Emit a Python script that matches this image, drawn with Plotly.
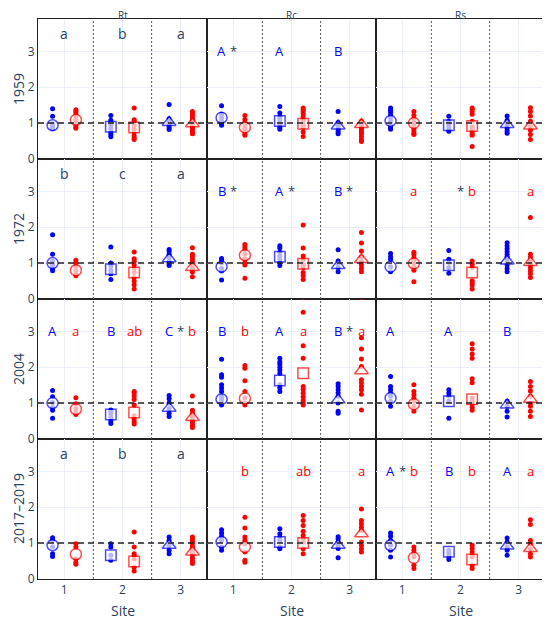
import plotly.graph_objects as go
from plotly.subplots import make_subplots

years = ["1959", "1972", "2004", "2017–2019"]
groups = ["Rt", "Rc", "Rs"]
sites = [1, 2, 3]

# ---- 1959 ----
b59_rt = [[1.40, 1.19, 0.98, 0.93, 0.88, 0.85], [1.21, 1.08, 1.02, 0.95, 0.85, 0.75, 0.68, 0.62], [1.52, 1.12, 1.05, 1.00, 0.93, 0.87, 0.82]]
r59_rt = [[1.37, 1.33, 1.28, 1.22, 1.15, 1.08, 1.02, 0.95, 0.90, 0.86], [1.42, 1.09, 1.05, 0.95, 0.85, 0.75, 0.65, 0.58, 0.54], [1.32, 1.28, 1.22, 1.15, 1.08, 1.02, 0.96, 0.90, 0.84, 0.78, 0.72, 0.70]]
mb59_rt = [0.94, 0.90, 1.02]
mr59_rt = [1.09, 0.88, 0.98]
b59_rc = [[1.48, 1.25, 1.15, 1.05, 0.98, 0.94], [1.46, 1.28, 1.18, 1.10, 1.02, 0.95, 0.88, 0.83], [1.32, 1.02, 0.95, 0.88, 0.82, 0.76, 0.70]]
r59_rc = [[1.21, 1.10, 1.02, 0.92, 0.85, 0.78, 0.70, 0.66], [1.42, 1.38, 1.32, 1.26, 1.18, 1.10, 1.02, 0.95, 0.88, 0.75, 0.63], [1.05, 1.00, 0.94, 0.88, 0.82, 0.76, 0.70, 0.63, 0.54, 0.49]]
mb59_rc = [1.15, 1.06, 0.92]
mr59_rc = [0.88, 0.98, 0.96]
b59_rs = [[1.42, 1.36, 1.30, 1.22, 1.15, 1.05, 0.95, 0.88, 0.83], [1.19, 1.05, 0.98, 0.90, 0.82, 0.77], [1.20, 1.08, 1.00, 0.93, 0.85, 0.78, 0.72]]
r59_rs = [[1.32, 1.22, 1.12, 1.02, 0.92, 0.85, 0.78, 0.70, 0.68], [1.42, 1.38, 1.32, 1.25, 1.05, 0.90, 0.85, 0.80, 0.72, 0.66, 0.35], [1.43, 1.32, 1.20, 1.05, 0.91, 0.80, 0.68, 0.54]]
mb59_rs = [1.06, 0.94, 0.96]
mr59_rs = [1.00, 0.92, 0.92]

# ---- 1972 ----
b72_rt = [[1.79, 1.25, 1.05, 0.95, 0.85, 0.79], [1.45, 1.00, 0.92, 0.80, 0.70, 0.54], [1.38, 1.33, 1.25, 1.15, 1.05, 0.98, 0.93]]
r72_rt = [[1.08, 1.00, 0.90, 0.78, 0.70, 0.65], [1.31, 1.12, 1.05, 0.95, 0.85, 0.74, 0.60, 0.50, 0.40, 0.28], [1.43, 1.25, 1.18, 1.10, 1.02, 0.95, 0.85, 0.75, 0.62]]
mb72_rt = [1.00, 0.83, 1.12]
mr72_rt = [0.80, 0.74, 0.88]
b72_rc = [[1.13, 1.08, 1.00, 0.85, 0.78, 0.53], [1.48, 1.42, 1.30, 1.20, 1.10, 1.02, 0.93], [1.37, 1.06, 0.98, 0.88, 0.76]]
r72_rc = [[1.52, 1.45, 1.38, 1.25, 1.12, 1.00, 0.95, 0.58], [2.06, 1.42, 1.20, 1.10, 0.97, 0.88, 0.74, 0.65, 0.54], [1.85, 1.56, 1.34, 1.16, 1.04, 0.95, 0.85, 0.76]]
mb72_rc = [0.90, 1.18, 0.93]
mr72_rc = [1.22, 0.98, 1.10]
b72_rs = [[1.27, 1.18, 1.10, 0.90, 0.76], [1.35, 1.11, 1.02, 0.88, 0.72], [1.57, 1.48, 1.40, 1.32, 1.25, 1.18, 1.10, 1.02, 0.95, 0.85, 0.76]]
r72_rs = [[1.30, 1.25, 1.15, 1.08, 1.00, 0.90, 0.80, 0.48], [1.06, 0.97, 0.88, 0.51, 0.45, 0.39, 0.28], [2.27, 1.25, 1.16, 1.06, 0.97, 0.88, 0.79, 0.70, 0.60]]
mb72_rs = [0.90, 0.94, 1.06]
mr72_rs = [0.99, 0.74, 1.02]

# ---- 2004 ----
b04_rt = [[1.35, 1.18, 1.02, 0.88, 0.80, 0.58], [0.81, 0.78, 0.70, 0.60, 0.50, 0.43], [1.21, 1.12, 1.00, 0.85, 0.72, 0.63]]
r04_rt = [[1.15, 0.98, 0.85, 0.75, 0.68], [1.32, 1.28, 1.20, 1.10, 0.95, 0.65, 0.55, 0.48, 0.42], [1.20, 0.80, 0.72, 0.62, 0.52, 0.45, 0.38, 0.32]]
mb04_rt = [1.00, 0.68, 0.86]
mr04_rt = [0.83, 0.74, 0.60]
b04_rc = [[2.22, 1.79, 1.72, 1.51, 1.42, 1.32, 1.19, 1.10, 1.00, 0.95], [2.25, 2.15, 2.08, 2.00, 1.92, 1.83, 1.51, 1.42, 1.32], [1.54, 1.46, 1.37, 1.28, 1.19, 1.00, 0.77, 0.72]]
r04_rc = [[2.05, 1.97, 1.62, 1.32, 1.14, 1.00, 0.95], [3.95, 3.53, 2.60, 2.25, 1.46, 1.38, 1.28, 1.18, 1.08, 1.00, 0.95], [3.95, 2.82, 2.51, 2.23, 2.02, 1.65, 1.56, 1.46, 1.37, 1.25, 0.81]]
mb04_rc = [1.11, 1.63, 1.09]
mr04_rc = [1.13, 1.83, 1.90]
b04_rs = [[1.74, 1.46, 1.37, 1.28, 1.19, 1.05, 0.91], [1.37, 1.28, 1.19, 1.05, 0.58], [1.05, 0.91, 0.77, 0.61]]
r04_rs = [[1.51, 1.32, 1.23, 1.14, 1.05, 0.91, 0.77], [2.65, 2.51, 2.37, 2.25, 1.68, 1.57, 1.14, 1.05, 0.97, 0.88, 0.80], [1.60, 1.46, 1.34, 1.19, 1.00, 0.91, 0.77, 0.63]]
mb04_rs = [1.14, 1.05, 0.95]
mr04_rs = [0.97, 1.11, 1.11]

# ---- 2017-2019 ----
b17_rt = [[1.15, 1.08, 0.90, 0.70, 0.63], [0.98, 0.89, 0.66, 0.52], [1.17, 1.08, 0.94, 0.80, 0.70]]
r17_rt = [[0.98, 0.89, 0.56, 0.47, 0.41], [1.31, 0.89, 0.70, 0.65, 0.56, 0.33, 0.22], [1.17, 1.12, 1.05, 0.98, 0.90, 0.82, 0.74, 0.66, 0.58, 0.50, 0.43]]
mb17_rt = [0.94, 0.66, 0.94]
mr17_rt = [0.69, 0.49, 0.75]
b17_rc = [[1.37, 1.28, 1.19, 1.08, 0.89, 0.80], [1.40, 1.26, 1.17, 1.08, 0.89, 0.84], [1.18, 1.12, 1.03, 0.94, 0.85, 0.59]]
r17_rc = [[1.72, 1.42, 1.17, 1.08, 0.98, 0.75, 0.52, 0.47], [1.77, 1.63, 1.49, 1.33, 1.21, 1.12, 1.03, 0.84, 0.70], [1.95, 1.63, 1.54, 1.44, 1.35, 1.03, 0.94, 0.84, 0.75]]
mb17_rc = [1.03, 1.03, 0.94]
mr17_rc = [0.89, 1.00, 1.26]
b17_rs = [[1.28, 1.19, 1.08, 0.94, 0.80, 0.61], [0.80, 0.72, 0.63, 0.54], [1.14, 1.03, 0.89, 0.80, 0.66]]
r17_rs = [[0.89, 0.80, 0.70, 0.61, 0.38, 0.29], [0.94, 0.85, 0.75, 0.66, 0.61, 0.38, 0.29], [1.65, 1.52, 1.07, 0.98, 0.84, 0.70, 0.61]]
mb17_rs = [0.94, 0.76, 0.92]
mr17_rs = [0.59, 0.54, 0.85]

# letters: centred (grey) ones, and (blue, star, red) ones
ctr59_rt = ["a", "b", "a"]
ctr72_rt = ["b", "c", "a"]
ctr17_rt = ["a", "b", "a"]
let59_rc = [("A", "*", ""), ("A", "", ""), ("B", "", "")]
let72_rc = [("B", "*", ""), ("A", "*", ""), ("B", "*", "")]
let72_rs = [("", "", "a"), ("", "*", "b"), ("", "", "a")]
let04_rt = [("A", "", "a"), ("B", "", "ab"), ("C", "*", "b")]
let04_rc = [("B", "", "b"), ("A", "", "a"), ("B", "*", "a")]
let04_rs = [("A", "", ""), ("A", "", ""), ("B", "", "")]
let17_rc = [("", "", "b"), ("", "", "ab"), ("", "", "a")]
let17_rs = [("A", "*", "b"), ("B", "", "b"), ("A", "", "a")]

panels = {
    (0, 0): (b59_rt, r59_rt, mb59_rt, mr59_rt), (0, 1): (b59_rc, r59_rc, mb59_rc, mr59_rc), (0, 2): (b59_rs, r59_rs, mb59_rs, mr59_rs),
    (1, 0): (b72_rt, r72_rt, mb72_rt, mr72_rt), (1, 1): (b72_rc, r72_rc, mb72_rc, mr72_rc), (1, 2): (b72_rs, r72_rs, mb72_rs, mr72_rs),
    (2, 0): (b04_rt, r04_rt, mb04_rt, mr04_rt), (2, 1): (b04_rc, r04_rc, mb04_rc, mr04_rc), (2, 2): (b04_rs, r04_rs, mb04_rs, mr04_rs),
    (3, 0): (b17_rt, r17_rt, mb17_rt, mr17_rt), (3, 1): (b17_rc, r17_rc, mb17_rc, mr17_rc), (3, 2): (b17_rs, r17_rs, mb17_rs, mr17_rs),
}
centre_letters = {(0, 0): ctr59_rt, (1, 0): ctr72_rt, (3, 0): ctr17_rt}
pair_letters = {(0, 1): let59_rc, (1, 1): let72_rc, (1, 2): let72_rs, (2, 0): let04_rt,
                (2, 1): let04_rc, (2, 2): let04_rs, (3, 1): let17_rc, (3, 2): let17_rs}

BLUE, RED, INK = "#0000ff", "#ff0000", "#2a3f5f"
FONT = "Open Sans"
dx = 0.2
symbols = ["circle", "square", "triangle-up"]
msizes = [11, 10.5, 12]

fig = make_subplots(rows=4, cols=3, horizontal_spacing=0, vertical_spacing=0)

for (i, j), (bp, rp, bm, rm) in panels.items():
    row, col = i + 1, j + 1
    idx = i * 3 + j + 1
    xr = "x" if idx == 1 else f"x{idx}"
    yr = "y" if idx == 1 else f"y{idx}"
    for pts, means, color, off in ((bp, bm, BLUE, -dx), (rp, rm, RED, dx)):
        xs, ys = [], []
        for s, vals in zip(sites, pts):
            xs += [s + off] * len(vals)
            ys += vals
        fig.add_trace(go.Scatter(x=xs, y=ys, mode="markers", showlegend=False, hoverinfo="skip",
                                 marker=dict(color=color, size=5)), row=row, col=col)
        fig.add_trace(go.Scatter(x=[s + off for s in sites], y=means, mode="markers", showlegend=False,
                                 hoverinfo="skip",
                                 marker=dict(symbol=symbols, size=msizes, color="white",
                                             line=dict(color=color, width=1.5))), row=row, col=col)
    # site separators and reference line
    for xv in (1.5, 2.5):
        fig.add_shape(type="line", xref=xr, yref=yr, x0=xv, x1=xv, y0=0, y1=3.9,
                      line=dict(color="#555555", width=1, dash="2px,2px"))
    fig.add_shape(type="line", xref=xr, yref=yr, x0=0.55, x1=3.45, y0=1, y1=1, layer="above",
                  line=dict(color="#222222", width=1.5, dash="6px,4px"))
    if (i, j) in centre_letters:
        for s, t in zip(sites, centre_letters[(i, j)]):
            fig.add_annotation(x=s, y=3.5, xref=xr, yref=yr, text=t, showarrow=False,
                               font=dict(family=FONT, size=14, color=INK))
    if (i, j) in pair_letters:
        for s, (tb, star, tr) in zip(sites, pair_letters[(i, j)]):
            for t, xv, c in ((tb, s - dx, BLUE), (star, s, INK), (tr, s + dx, RED)):
                if t:
                    fig.add_annotation(x=xv, y=3.0, xref=xr, yref=yr, text=t, showarrow=False,
                                       font=dict(family=FONT, size=13, color=c))

fig.update_xaxes(range=[0.55, 3.45], tickvals=sites, ticktext=[str(s) for s in sites],
                 showticklabels=False, showline=True, mirror=True, linecolor="#222222", linewidth=1,
                 showgrid=True, gridcolor="#EBF0F8", zeroline=False, ticks="",
                 tickfont=dict(family=FONT, size=12, color=INK))
fig.update_xaxes(showticklabels=True, row=4)
fig.update_yaxes(range=[0, 3.9], tickvals=[0, 1, 2, 3], showticklabels=False, showline=True, mirror=True,
                 linecolor="#222222", linewidth=1, showgrid=True, gridcolor="#EBF0F8", zeroline=False,
                 ticks="", tickfont=dict(family=FONT, size=12, color=INK))
fig.update_yaxes(showticklabels=True, col=1)

row_h = 1 / 4
for i, yr_lab in enumerate(years):
    fig.add_annotation(x=-0.0394, y=1 - row_h * (i + 0.5), xref="paper", yref="paper", text=yr_lab,
                       textangle=-90, showarrow=False, xanchor="center", yanchor="middle",
                       font=dict(family=FONT, size=14, color=INK))
for j, g in enumerate(groups):
    fig.add_annotation(x=(j + 0.5) / 3, y=1.0079, xref="paper", yref="paper", text=g, showarrow=False,
                       xanchor="center", yanchor="middle", borderpad=0, borderwidth=0,
                       font=dict(family=FONT, size=10, color=INK))
    fig.add_annotation(x=(j + 0.5) / 3, y=-0.0554, xref="paper", yref="paper", text="Site", showarrow=False,
                       xanchor="center", yanchor="middle", font=dict(family=FONT, size=14, color=INK))

# the page body adds an 8px margin, so the figure is drawn 8px smaller
fig.update_layout(width=542, height=612, template="plotly_white", plot_bgcolor="white",
                  margin=dict(l=30, r=5, t=11, b=41), font=dict(family=FONT, color=INK))

fig.write_html("out.html")
